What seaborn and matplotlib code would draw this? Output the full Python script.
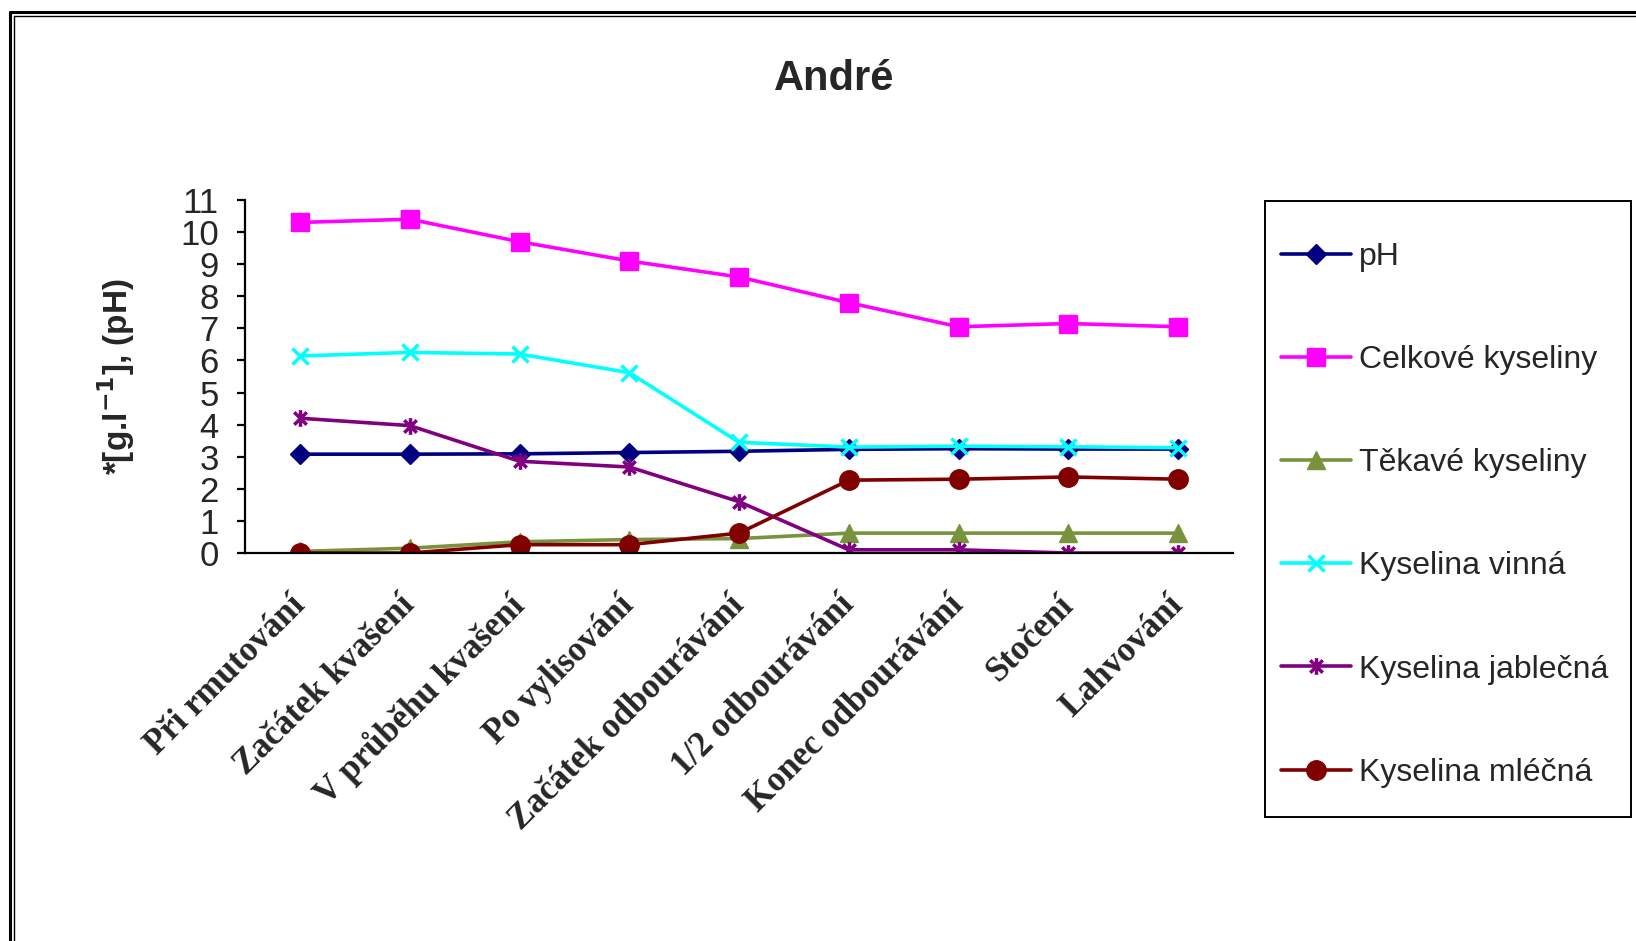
import numpy as np
import pandas as pd
import matplotlib
matplotlib.use("Agg")
import matplotlib.pyplot as plt
from matplotlib.path import Path
from matplotlib.lines import Line2D
from matplotlib.patches import Rectangle
from matplotlib.ticker import FixedLocator
import seaborn as sns

# Sampling stages along the winemaking process
stages = ["Při rmutování", "Začátek kvašení", "V průběhu kvašení", "Po vylisování",
          "Začátek odbourávání", "1/2 odbourávání", "Konec odbourávání", "Stočení", "Lahvování"]

# Measured values, g/l (pH unitless)
ph = [3.08, 3.08, 3.09, 3.13, 3.17, 3.23, 3.25, 3.24, 3.24]
celkove = [10.3, 10.4, 9.7, 9.1, 8.6, 7.8, 7.05, 7.15, 7.05]
tekave = [0.05, 0.15, 0.35, 0.42, 0.45, 0.62, 0.62, 0.62, 0.62]
vinna = [6.14, 6.25, 6.2, 5.62, 3.45, 3.3, 3.33, 3.31, 3.28]
jablecna = [4.2, 3.97, 2.86, 2.68, 1.6, 0.1, 0.1, 0.0, 0.0]
mlecna = [0.0, 0.0, 0.26, 0.26, 0.62, 2.27, 2.3, 2.37, 2.3]

series_names = ["pH", "Celkové kyseliny", "Těkavé kyseliny",
                "Kyselina vinná", "Kyselina jablečná", "Kyselina mléčná"]
series_values = [ph, celkove, tekave, vinna, jablecna, mlecna]

sns.set_style("white")
plt.rcParams["font.family"] = ["Liberation Sans", "DejaVu Sans"]

# Asterisk marker: vertical bar plus an X
asterisk = Path([(0, -1), (0, 1), (-0.75, -0.75), (0.75, 0.75), (-0.75, 0.75), (0.75, -0.75)],
                [Path.MOVETO, Path.LINETO] * 3)

styles = {
    "pH": dict(color="#000080", marker="D", markersize=10, mew=1),
    "Celkové kyseliny": dict(color="#FF00FF", marker="s", markersize=13, mew=1),
    "Těkavé kyseliny": dict(color="#77933C", marker="^", markersize=13, mew=1),
    "Kyselina vinná": dict(color="#00FFFF", marker="x", markersize=12, mew=2.5),
    "Kyselina jablečná": dict(color="#800080", marker=asterisk, markersize=12, mew=2.5),
    "Kyselina mléčná": dict(color="#800000", marker="o", markersize=14, mew=1),
}

df = pd.DataFrame({"stage": stages})
for name, vals in zip(series_names, series_values):
    df[name] = vals

W, H = 1636, 941
fig = plt.figure(figsize=(W / 100, H / 100), dpi=100)
ax = fig.add_axes([0.1498, 0.4123, 0.6039, 0.3752])

for name in series_names:
    st = styles[name]
    sns.lineplot(data=df, x="stage", y=name, ax=ax, sort=False, legend=False,
                 color=st["color"], linewidth=2.6, marker=st["marker"],
                 markersize=st["markersize"], markeredgecolor=st["color"],
                 markerfacecolor=st["color"], markeredgewidth=st["mew"], label=name)

ax.set_xlim(-0.5, len(stages) - 0.5)
ax.set_ylim(0, 11)
ax.set_yticks(range(0, 12))
ax.xaxis.set_minor_locator(FixedLocator(np.arange(-0.5, len(stages), 1.0)))

for side in ("top", "right"):
    ax.spines[side].set_visible(False)
for side in ("left", "bottom"):
    ax.spines[side].set_color("black")
    ax.spines[side].set_linewidth(1.6)

ax.tick_params(axis="x", which="major", length=0, pad=34)
ax.tick_params(axis="x", which="minor", length=9, width=1.6, color="black", direction="out")
ax.tick_params(axis="y", which="major", length=6, width=1.6, color="black",
               direction="out", left=True, pad=13)

ax.set_xticks(range(len(stages)))
ax.set_xticklabels(stages, rotation=45, ha="right", va="center", rotation_mode="anchor",
                   fontsize=25, fontweight="bold", family=["Liberation Serif", "DejaVu Serif"])
for lab in ax.get_yticklabels():
    lab.set_fontsize(25)
    lab.set_family(["Liberation Sans Narrow", "Liberation Sans", "DejaVu Sans"])

ax.set_xlabel("")
ax.set_ylabel(r"*[g.l$^{\mathbf{-1}}$], (pH)", fontsize=24, fontweight="bold", labelpad=31)

fig.text(0.51, 0.916, "André", ha="center", va="center", fontsize=30, fontweight="bold")

# Legend box, with the entries placed inside it
fig.add_artist(Rectangle((1265 / W, 1 - 817 / H), 366 / W, 616 / H, transform=fig.transFigure,
                         facecolor="none", edgecolor="black", lw=1.4))
handles, labels = ax.get_legend_handles_labels()
leg = fig.legend(handles, labels, loc="upper left", bbox_to_anchor=(1281 / W, 1 - 242 / H),
                 borderaxespad=0, borderpad=0, fontsize=23, handlelength=2.2,
                 handletextpad=0.25, labelspacing=2.29, numpoints=1, frameon=False)

# Double frame around the chart area
fig.add_artist(Line2D([10 / W, 1.0], [1 - 12 / H, 1 - 12 / H], color="black", lw=2.2))
fig.add_artist(Line2D([14 / W, 1.0], [1 - 16 / H, 1 - 16 / H], color="black", lw=1.0))
fig.add_artist(Line2D([10 / W, 10 / W], [0.0, 1 - 12 / H], color="black", lw=2.2))
fig.add_artist(Line2D([14 / W, 14 / W], [0.0, 1 - 16 / H], color="black", lw=1.0))

fig.savefig("out.png", dpi=100)
